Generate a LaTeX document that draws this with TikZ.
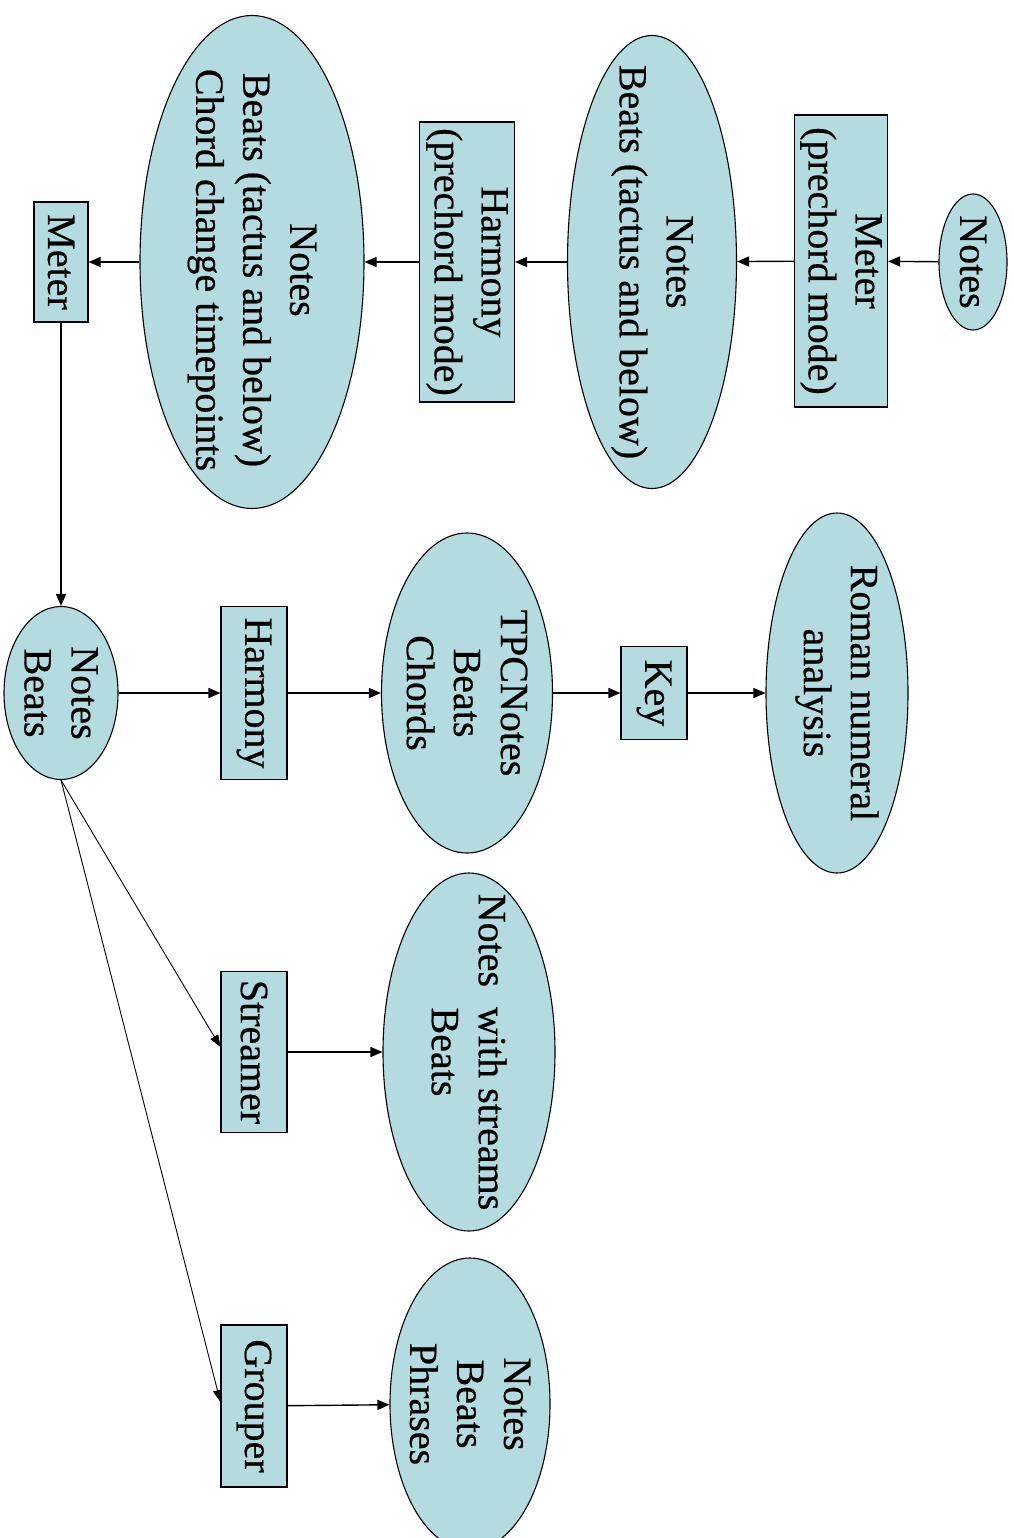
\documentclass[tikz,border=0pt]{standalone}
\usepackage{fontspec}
\setmainfont{Liberation Serif}[FakeBold=0.5]
\usetikzlibrary{shapes.geometric,arrows.meta}
\definecolor{nodefill}{RGB}{180,220,224}
\begin{document}
\begin{tikzpicture}[x=1pt,y=-1pt,
  ell/.style={ellipse, draw=black, line width=1.1pt, fill=nodefill, inner sep=0pt},
  boxnode/.style={rectangle, draw=black, line width=1.1pt, fill=nodefill, inner sep=0pt},
  lbl/.style={rotate=-90, align=center, inner sep=0pt, font=\fontsize{40}{47}\selectfont},
  arr/.style={-{Triangle[length=12pt,width=10pt]}, line width=1.4pt},
  thin arr/.style={-{Triangle[length=12pt,width=9pt]}, line width=0.9pt}]
\useasboundingbox (0,0) rectangle (1013,1538);
\clip (0,0) rectangle (1013,1538);
\fill[white] (0,0) rectangle (1013,1538);

% top chain
\node[ell, minimum width=68, minimum height=136] (n1) at (973,262) {};
\node[boxnode, minimum width=93, minimum height=292] (m1) at (841,261) {};
\node[ell, minimum width=169, minimum height=453] (e2) at (652,262) {};
\node[boxnode, minimum width=95, minimum height=280] (h1) at (467,262) {};
\node[ell, minimum width=224, minimum height=493] (e3) at (252,262) {};
\node[boxnode, minimum width=54, minimum height=120] (m2) at (61,262) {};

% middle row
\node[ell, minimum width=114, minimum height=173] (nb) at (61,693) {};
\node[boxnode, minimum width=66, minimum height=173] (h2) at (254,693) {};
\node[ell, minimum width=171, minimum height=320] (tpc) at (467,693) {};
\node[boxnode, minimum width=66, minimum height=93] (key) at (654,693) {};
\node[ell, minimum width=142, minimum height=360] (rn) at (837,693) {};

% lower rows
\node[boxnode, minimum width=66, minimum height=161] (st) at (254,1052) {};
\node[ell, minimum width=172, minimum height=358] (ns) at (469,1052) {};
\node[boxnode, minimum width=66, minimum height=162] (gr) at (254,1406) {};
\node[ell, minimum width=160, minimum height=292] (nbp) at (470,1404) {};

% labels
\node[lbl] (n1t) at (n1) {Notes};
\node[lbl] (m1t) at (m1) {Meter\\(prechord mode)};
\node[lbl] (e2t) at (e2) {Notes\\Beats (tactus and below)};
\node[lbl] (h1t) at (h1) {Harmony\\(prechord mode)};
\node[lbl] (e3t) at ([yshift=-8pt]e3.center) {Notes\\Beats (tactus and below)\\Chord change timepoints};
\node[lbl] (m2t) at (m2) {Meter};
\node[lbl] (nbt) at (nb) {Notes\\Beats};
\node[lbl] (h2t) at (h2) {Harmony};
\node[lbl] (tpct) at (tpc) {TPCNotes\\Beats\\Chords};
\node[lbl] (keyt) at (key) {Key};
\node[lbl] (rnt) at (rn) {Roman numeral\\analysis};
\node[lbl] (stt) at (st) {Streamer};
\node[lbl] (nst) at (ns) {Notes~ with streams\\Beats};
\node[lbl] (grt) at (gr) {Grouper};
\node[lbl] (nbpt) at (nbp) {Notes\\Beats\\Phrases};

% connectors
\draw[arr] (n1) -- (m1);
\draw[arr] (m1) -- (e2);
\draw[arr] (e2) -- (h1);
\draw[arr] (h1) -- (e3);
\draw[arr] (e3) -- (m2);
\draw[arr] (m2.south) -- (nb.north);
\draw[arr] (nb) -- (h2);
\draw[arr] (h2) -- (tpc);
\draw[arr] (tpc) -- (key);
\draw[arr] (key) -- (rn);
\draw[thin arr] (nb.south) -- ([yshift=5pt]st.west);
\draw[thin arr] (nb.south) -- ([yshift=4pt]gr.west);
\draw[arr] (st) -- (ns);
\draw[arr] (gr) -- (nbp);
\end{tikzpicture}
\end{document}
